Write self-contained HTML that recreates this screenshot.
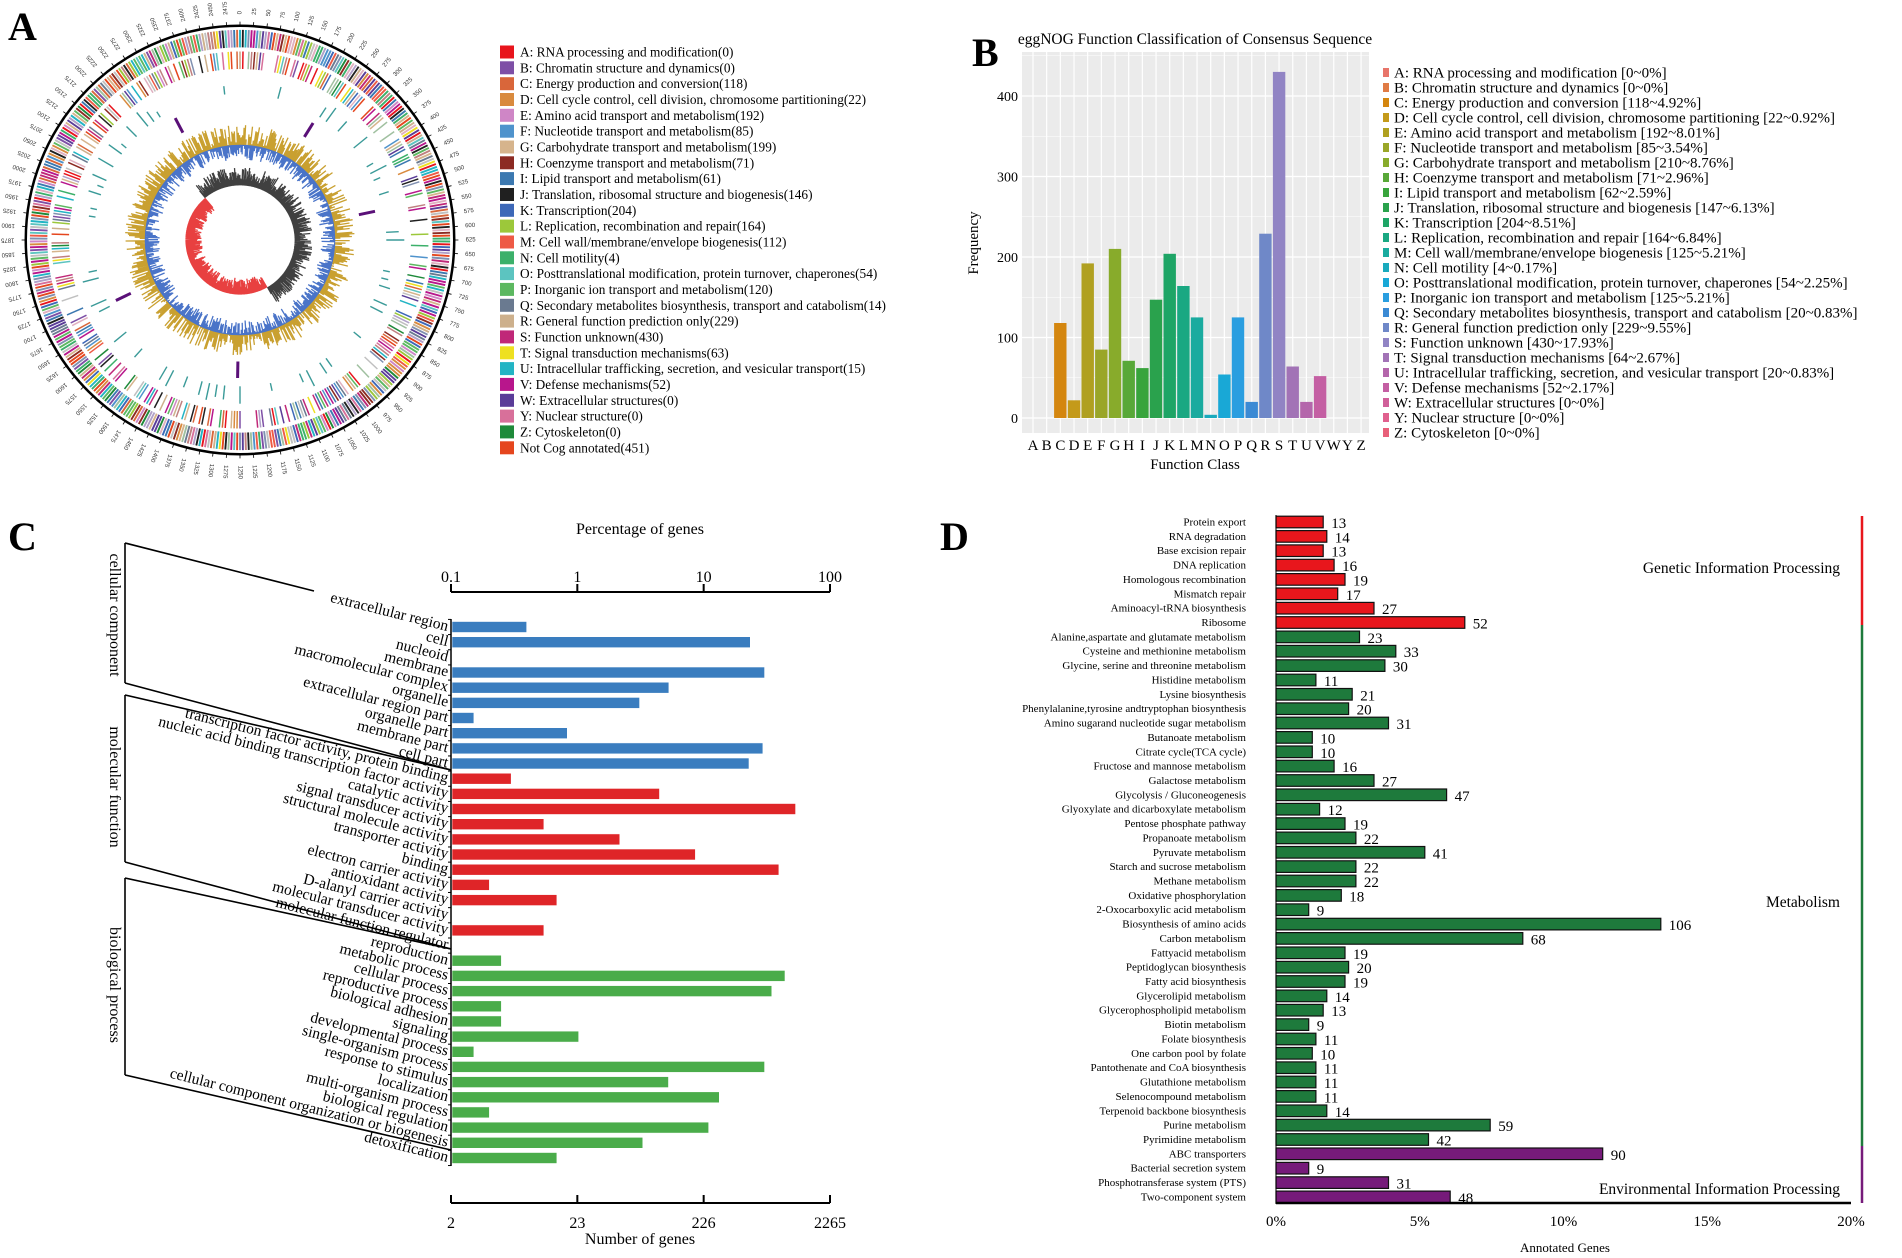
<!DOCTYPE html>
<html><head><meta charset="utf-8"><style>
html,body{margin:0;padding:0;background:#fff}
svg{display:block;font-family:"Liberation Serif",serif}
</style></head><body>
<svg id="fig" width="1902" height="1258" viewBox="0 0 1902 1258" xmlns="http://www.w3.org/2000/svg">
<text x="8" y="40" font-size="40" font-weight="bold">A</text>
<text x="972" y="66" font-size="40" font-weight="bold">B</text>
<text x="8" y="550" font-size="40" font-weight="bold">C</text>
<text x="940" y="550" font-size="40" font-weight="bold">D</text>
<g id="pa"></g>
<g id="pal"></g>
<g id="pb"></g>
<g id="pc"></g>
<g id="pd"></g>
</svg>
<script>
// ---------- Panel A data ----------
const cogLabels=["A: RNA processing and modification(0)","B: Chromatin structure and dynamics(0)","C: Energy production and conversion(118)","D: Cell cycle control, cell division, chromosome partitioning(22)","E: Amino acid transport and metabolism(192)","F: Nucleotide transport and metabolism(85)","G: Carbohydrate transport and metabolism(199)","H: Coenzyme transport and metabolism(71)","I: Lipid transport and metabolism(61)","J: Translation, ribosomal structure and biogenesis(146)","K: Transcription(204)","L: Replication, recombination and repair(164)","M: Cell wall/membrane/envelope biogenesis(112)","N: Cell motility(4)","O: Posttranslational modification, protein turnover, chaperones(54)","P: Inorganic ion transport and metabolism(120)","Q: Secondary metabolites biosynthesis, transport and catabolism(14)","R: General function prediction only(229)","S: Function unknown(430)","T: Signal transduction mechanisms(63)","U: Intracellular trafficking, secretion, and vesicular transport(15)","V: Defense mechanisms(52)","W: Extracellular structures(0)","Y: Nuclear structure(0)","Z: Cytoskeleton(0)","Not Cog annotated(451)"];
const cogCounts=[0,0,118,22,192,85,199,71,61,146,204,164,112,4,54,120,14,229,430,63,15,52,0,0,0,451];
const cogColors=["#e8141c","#7e4fa6","#d9663a","#d98a3e","#cf86c6","#4f93cc","#d6b48c","#8c2a22","#3b78b0","#202020","#3d68b8","#9cc83a","#ee5a45","#3cb06a","#5cc4c0","#5cb860","#6a7a90","#cdb08c","#c02878","#eee020","#22b4c4","#b8168c","#5a3c98","#d8709a","#1e8a3a","#e5461e"];
// ---------- Panel B data ----------
const bLetters=["A","B","C","D","E","F","G","H","I","J","K","L","M","N","O","P","Q","R","S","T","U","V","W","Y","Z"];
const bCounts=[0,0,118,22,192,85,210,71,62,147,204,164,125,4,54,125,20,229,430,64,20,52,0,0,0];
const bNames=["RNA processing and modification","Chromatin structure and dynamics","Energy production and conversion","Cell cycle control, cell division, chromosome partitioning","Amino acid transport and metabolism","Nucleotide transport and metabolism","Carbohydrate transport and metabolism","Coenzyme transport and metabolism","Lipid transport and metabolism","Translation, ribosomal structure and biogenesis","Transcription","Replication, recombination and repair","Cell wall/membrane/envelope biogenesis","Cell motility","Posttranslational modification, protein turnover, chaperones","Inorganic ion transport and metabolism","Secondary metabolites biosynthesis, transport and catabolism","General function prediction only","Function unknown","Signal transduction mechanisms","Intracellular trafficking, secretion, and vesicular transport","Defense mechanisms","Extracellular structures","Nuclear structure","Cytoskeleton"];
const bPct=["0","0","4.92","0.92","8.01","3.54","8.76","2.96","2.59","6.13","8.51","6.84","5.21","0.17","2.25","5.21","0.83","9.55","17.93","2.67","0.83","2.17","0","0","0"];
const bTicks=[0,100,200,300,400];
// ---------- Panel C data ----------
const cLabels=["extracellular region","cell","nucleoid","membrane","macromolecular complex","organelle","extracellular region part","organelle part","membrane part","cell part","transcription factor activity, protein binding","nucleic acid binding transcription factor activity","catalytic activity","signal transducer activity","structural molecule activity","transporter activity","binding","electron carrier activity","antioxidant activity","D-alanyl carrier activity","molecular transducer activity","molecular function regulator","reproduction","metabolic process","cellular process","reproductive process","biological adhesion","signaling","developmental process","single-organism process","response to stimulus","localization","multi-organism process","biological regulation","cellular component organization or biogenesis","detoxification"];
const cValues=[8,507,0,661,112,65,3,17,640,495,6,94,1175,11,45,183,862,4,14,0,11,0,5,964,755,5,5,21,3,661,111,285,4,234,69,14];
const cGroupOf=[0,0,0,0,0,0,0,0,0,0,1,1,1,1,1,1,1,1,1,1,1,1,2,2,2,2,2,2,2,2,2,2,2,2,2,2];
const cGroupNames=["cellular component","molecular function","biological process"];
const cTopTicks=["0.1","1","10","100"];
const cBottomTicks=["2","23","226","2265"];
// ---------- Panel D data ----------
const dLabels=["Protein export","RNA degradation","Base excision repair","DNA replication","Homologous recombination","Mismatch repair","Aminoacyl-tRNA biosynthesis","Ribosome","Alanine,aspartate and glutamate metabolism","Cysteine and methionine metabolism","Glycine, serine and threonine metabolism","Histidine metabolism","Lysine biosynthesis","Phenylalanine,tyrosine andtryptophan biosynthesis","Amino sugarand nucleotide sugar metabolism","Butanoate metabolism","Citrate cycle(TCA cycle)","Fructose and mannose metabolism","Galactose metabolism","Glycolysis / Gluconeogenesis","Glyoxylate and dicarboxylate metabolism","Pentose phosphate pathway","Propanoate metabolism","Pyruvate metabolism","Starch and sucrose metabolism","Methane metabolism","Oxidative phosphorylation","2-Oxocarboxylic acid metabolism","Biosynthesis of amino acids","Carbon metabolism","Fattyacid metabolism","Peptidoglycan biosynthesis","Fatty acid biosynthesis","Glycerolipid metabolism","Glycerophospholipid metabolism","Biotin metabolism","Folate biosynthesis","One carbon pool by folate","Pantothenate and CoA biosynthesis","Glutathione metabolism","Selenocompound metabolism","Terpenoid backbone biosynthesis","Purine metabolism","Pyrimidine metabolism","ABC transporters","Bacterial secretion system","Phosphotransferase system (PTS)","Two-component system"];
const dValues=[13,14,13,16,19,17,27,52,23,33,30,11,21,20,31,10,10,16,27,47,12,19,22,41,22,22,18,9,106,68,19,20,19,14,13,9,11,10,11,11,11,14,59,42,90,9,31,48];
const dGroupOf=[0,0,0,0,0,0,0,0,1,1,1,1,1,1,1,1,1,1,1,1,1,1,1,1,1,1,1,1,1,1,1,1,1,1,1,1,1,1,1,1,1,1,1,1,2,2,2,2];
const dGroupNames=["Genetic Information Processing","Metabolism","Environmental Information Processing"];
const dTicks=[0,5,10,15,20];
const dTotal=792;

const NS="http://www.w3.org/2000/svg";
function mk(parent,tag,attrs,txt){const e=document.createElementNS(NS,tag);for(const k in attrs)e.setAttribute(k,attrs[k]);if(txt!==undefined)e.textContent=txt;parent.appendChild(e);return e;}

// ===== Panel A: circos (decorative texture) =====
(function(){
const g=document.getElementById('pa');const cx=240,cy=240,S=1.03;
let seed=12345;function rnd(){seed=(seed*1103515245+12345)%2147483648;return seed/2147483648;}
function pt(r,a){const t=(a-90)*Math.PI/180;return [cx+r*S*Math.cos(t),cy+r*S*Math.sin(t)];}
function radial(r1,r2,a,col,w){const p=pt(r1,a),q=pt(r2,a);const l=mk(g,'line',{x1:p[0].toFixed(1),y1:p[1].toFixed(1),x2:q[0].toFixed(1),y2:q[1].toFixed(1),stroke:col,'stroke-width':w});

}
const pal=cogColors.concat(["#b0a0c8","#e0b0c0","#a0c0a0","#c0c0c0","#c08080","#8090b0"]);
for(let a=0;a<360;a+=0.8){radial(187,204,a,pal[Math.floor(rnd()*pal.length)],1.9);}
for(let a=0;a<360;a+=0.9){if(rnd()<0.62)radial(166,183,a,pal[Math.floor(rnd()*pal.length)],1.5);}
for(let a=0;a<360;a+=3){if(rnd()<0.35){const l=6+rnd()*12;radial(142,142+l,a,"#3a9a98",1.4);}}
[[-28,0],[32,0],[78,0],[181,0],[244,0]].forEach(m=>radial(118,134,m[0],"#5a1078",3));
let gcY="",gcB="",skK="",skR="";
for(let a=0;a<360;a+=0.7){const o1=rnd()*20,o2=rnd()*14;let p=pt(92,a),q=pt(92+o1,a);gcY+=`M${p[0].toFixed(1)} ${p[1].toFixed(1)}L${q[0].toFixed(1)} ${q[1].toFixed(1)}`;q=pt(92-o2,a);gcB+=`M${p[0].toFixed(1)} ${p[1].toFixed(1)}L${q[0].toFixed(1)} ${q[1].toFixed(1)}`;
 const inBlack=(a>=320||a<=150);p=pt(53,a);
 if(inBlack){q=pt(53+4+rnd()*14,a);skK+=`M${p[0].toFixed(1)} ${p[1].toFixed(1)}L${q[0].toFixed(1)} ${q[1].toFixed(1)}`;}
 else{q=pt(53-4-rnd()*12,a);skR+=`M${p[0].toFixed(1)} ${p[1].toFixed(1)}L${q[0].toFixed(1)} ${q[1].toFixed(1)}`;}}
[[gcY,"#c9a030"],[gcB,"#4a74c8"],[skK,"#404040"],[skR,"#e84040"]].forEach(d=>{const e=mk(g,'path',{d:d[0],stroke:d[1],'stroke-width':1.3,fill:'none'});

});
mk(g,'circle',{cx:cx,cy:cy,r:92*S,fill:'none',stroke:'#4a74c8','stroke-width':1});
const ring=mk(g,'circle',{cx:cx,cy:cy,r:208*S,fill:'none',stroke:'#000','stroke-width':2.5});


for(let k=0;k<100;k++){const a=k*3.6;radial(208,212,a,"#000",0.8);const p=pt(219,a);
 const t=mk(g,'text',{x:p[0].toFixed(1),y:p[1].toFixed(1),'font-size':6,'font-family':'Liberation Sans, sans-serif','text-anchor':'start',fill:'#333',transform:`rotate(${(a-90).toFixed(1)} ${p[0].toFixed(1)} ${p[1].toFixed(1)})`,'dominant-baseline':'middle'},String(k*25));
 
 }
})();
// legend A
(function(){const g=document.getElementById('pal');
cogLabels.forEach((s,i)=>{const y=52+i*15.83;
 const r=mk(g,'rect',{x:500,y:(y-6.5).toFixed(1),width:14,height:13,fill:cogColors[i]});
 
 
 const t=mk(g,'text',{x:520,y:(y+4.5).toFixed(1),'font-size':13.3},s);
 
 });})();

// ===== Panel B =====
(function(){const g=document.getElementById('pb');
const L=1022,R=1369,T=52,B=433,y0=418,x0=1033,step=13.67;
const ys=v=>y0-v*(418-96)/400;const xs=i=>x0+i*step;
const barCols=["#e8756a","#e07b45","#d4860f","#c49a1a","#b0a020","#9aa628","#88ab2b","#58a838","#38a43c","#2aa24d","#1ea566","#1aa882","#1aab9f","#19aabd","#19a8d6","#2a9ee0","#3b8ad4","#6f88c8","#9184c4","#a273b6","#b466ab","#c45fa3","#d0609a","#e0608e","#e8607a"];
const bg=mk(g,'rect',{x:L,y:T,width:R-L,height:B-T,fill:'#ebebeb'});


bTicks.forEach(v=>{mk(g,'line',{x1:L,x2:R,y1:ys(v),y2:ys(v),stroke:'#fff','stroke-width':1.2});
 mk(g,'line',{x1:L,x2:R,y1:ys(v+50),y2:ys(v+50),stroke:'#fff','stroke-width':0.5});
 const t=mk(g,'text',{x:L-4,y:ys(v)+5,'font-size':14,'text-anchor':'end'},String(v));
 
 });
bLetters.forEach((c,i)=>{mk(g,'line',{x1:xs(i),x2:xs(i),y1:T,y2:B,stroke:'#fff','stroke-width':1.2});});
bLetters.forEach((c,i)=>{const col=barCols[i];
 if(bCounts[i]>0){const r=mk(g,'rect',{x:(xs(i)-6.2).toFixed(1),y:ys(bCounts[i]).toFixed(1),width:12.4,height:(y0-ys(bCounts[i])).toFixed(1),fill:col});
 
 }
 const t=mk(g,'text',{x:xs(i),y:450,'font-size':15,'text-anchor':'middle'},c);
 
 
 const ly=73+i*15.0;
 const s=mk(g,'rect',{x:1383,y:ly-5,width:6,height:9,fill:col});
 
 
 const lt=mk(g,'text',{x:1394,y:ly+4.5,'font-size':15},`${c}: ${bNames[i]} [${bCounts[i]}~${bPct[i]}%]`);
 
 });
const tt=mk(g,'text',{x:1195,y:44,'font-size':15.5,'text-anchor':'middle'},'eggNOG Function Classification of Consensus Sequence');

const xt=mk(g,'text',{x:1195,y:469,'font-size':15,'text-anchor':'middle'},'Function Class');

const yt=mk(g,'text',{x:978,y:243,'font-size':15,'text-anchor':'middle',transform:'rotate(-90 978 243)'},'Frequency');

})();

// ===== Panel C =====
(function(){const g=document.getElementById('pc');
const X0=451,X1=830,top0=627,step=15.17,span=X1-X0;
const xs=n=>X0+span*Math.log10(n/2)/Math.log10(2265/2);
const ry=i=>top0+i*step;
const cols=["#3a7dbf","#df2528","#4aac4a"];
cValues.forEach((v,i)=>{if(v>2){const r=mk(g,'rect',{x:X0+1,y:(ry(i)-5.5).toFixed(1),width:(xs(v)-X0).toFixed(1),height:11,fill:cols[cGroupOf[i]],stroke:'#fff','stroke-width':0.6});
 
 }
 const t=mk(g,'text',{x:X0-4,y:ry(i)+4,'font-size':15.5,'text-anchor':'end',transform:`rotate(14 ${X0-4} ${ry(i)+4})`},cLabels[i]);
 
 });
mk(g,'line',{x1:X0,x2:X0,y1:ry(0)-8,y2:ry(cValues.length-1)+8,stroke:'#000','stroke-width':1.5});
for(let i=0;i<=cValues.length;i++)mk(g,'line',{x1:X0-3,x2:X0,y1:ry(i)-step/2,y2:ry(i)-step/2,stroke:'#000','stroke-width':1});
[[592,cTopTicks,582],[1203,cBottomTicks,1228]].forEach(ax=>{
 const l=mk(g,'line',{x1:X0,x2:X1,y1:ax[0],y2:ax[0],stroke:'#000','stroke-width':2});
 
 ax[1].forEach((s,k)=>{const x=X0+k*span/3;mk(g,'line',{x1:x,x2:x,y1:ax[0],y2:ax[0]-8,stroke:'#000','stroke-width':2});
  const t=mk(g,'text',{x:x,y:ax[2],'font-size':16,'text-anchor':'middle'},s);
  });});
const t1=mk(g,'text',{x:640,y:534,'font-size':16,'text-anchor':'middle'},'Percentage of genes');

const t2=mk(g,'text',{x:640,y:1244,'font-size':16,'text-anchor':'middle'},'Number of genes');

const bl=[[125,543,314,591],[125,683,451,770],[125,695,451,770],[125,862,451,949],[125,878,451,949],[125,1075,451,1150],[125,543,125,683],[125,695,125,862],[125,878,125,1075]];
bl.forEach(s=>{const l=mk(g,'line',{x1:s[0],y1:s[1],x2:s[2],y2:s[3],stroke:'#000','stroke-width':1.6});
 });
[[615,0],[787,1],[985,2]].forEach(p=>{const t=mk(g,'text',{x:110,y:p[0],'font-size':16,'text-anchor':'middle',transform:`rotate(90 110 ${p[0]})`},cGroupNames[p[1]]);
 });
})();

// ===== Panel D =====
(function(){const g=document.getElementById('pd');
const X0=1276,X1=1851,top0=522,step=14.36;
const xs=p=>X0+(X1-X0)*p/20;const ry=i=>top0+i*step;
const cols=["#e8161c","#1e7a3c","#761b7a"];
dValues.forEach((v,i)=>{const w=xs(v/dTotal*100)-X0;
 const r=mk(g,'rect',{x:X0,y:(ry(i)-5.8).toFixed(1),width:w.toFixed(1),height:11.6,fill:cols[dGroupOf[i]],stroke:'#111','stroke-width':1.2});
 
 
 const vt=mk(g,'text',{x:(X0+w+8).toFixed(1),y:ry(i)+6,'font-size':15},String(v));
 
 const t=mk(g,'text',{x:1246,y:ry(i)+3.5,'font-size':11,'text-anchor':'end'},dLabels[i]);
 });
const ax=mk(g,'line',{x1:X0,x2:X1,y1:1203,y2:1203,stroke:'#000','stroke-width':2.5});

mk(g,'line',{x1:X0,x2:X0,y1:515,y2:1204,stroke:'#000','stroke-width':1});
dTicks.forEach(v=>{const t=mk(g,'text',{x:xs(v),y:1226,'font-size':15,'text-anchor':'middle'},v+'%');
 });
const xt=mk(g,'text',{x:1565,y:1252,'font-size':13,'text-anchor':'middle'},'Annotated Genes');

[[516,625,"#e8161c"],[625,1146,"#1e7a3c"],[1146,1203,"#761b7a"]].forEach(s=>{const l=mk(g,'line',{x1:1862,x2:1862,y1:s[0],y2:s[1],stroke:s[2],'stroke-width':2.5});
 });
[[573,0],[907,1],[1194,2]].forEach(p=>{const t=mk(g,'text',{x:1840,y:p[0],'font-size':15.5,'text-anchor':'end'},dGroupNames[p[1]]);
 });
})();
</script>
</body></html>
